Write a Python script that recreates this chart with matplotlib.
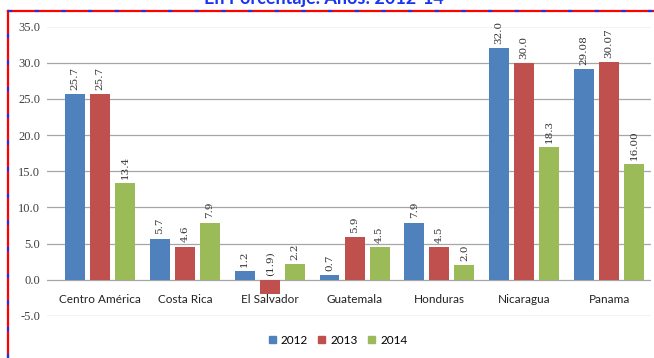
import numpy as np
import matplotlib.pyplot as plt
from matplotlib.lines import Line2D
from matplotlib.patches import Patch

# categorias y valores (porcentaje)
paises = ["Centro América", "Costa Rica", "El Salvador", "Guatemala",
          "Honduras", "Nicaragua", "Panama"]
anios = ["2012", "2013", "2014"]
v2012 = [25.7, 5.7, 1.2, 0.7, 7.9, 32.0, 29.08]
v2013 = [25.7, 4.6, -1.9, 5.9, 4.5, 30.0, 30.07]
v2014 = [13.4, 7.9, 2.2, 4.5, 2.0, 18.3, 16.00]
e2012 = ["25.7", "5.7", "1.2", "0.7", "7.9", "32.0", "29.08"]
e2013 = ["25.7", "4.6", "(1.9)", "5.9", "4.5", "30.0", "30.07"]
e2014 = ["13.4", "7.9", "2.2", "4.5", "2.0", "18.3", "16.00"]
yticks = [-5.0, 0.0, 5.0, 10.0, 15.0, 20.0, 25.0, 30.0, 35.0]
titulo = "En Porcentaje. Años: 2012-14"

colores = ["#4F81BD", "#C0504D", "#9BBB59"]

W, H = 654, 358
fig = plt.figure(figsize=(W / 100, H / 100), dpi=100)
fig.patch.set_facecolor("white")

ax = fig.add_axes([47 / W, 1 - 316 / H, (651.5 - 47) / W, (316 - 26.5) / H])
ax.set_ylim(-5, 35)
ax.set_xlim(-0.5 - (57.6 - 47) / 84.8, 6.5)

x = np.arange(len(paises))
paso = 0.295
ancho = 0.235
series = [(v2012, e2012), (v2013, e2013), (v2014, e2014)]
for k, (vals, etq) in enumerate(series):
    xs = x + (k - 1) * paso
    ax.bar(xs, vals, width=ancho, color=colores[k], zorder=3)
    for xi, v, t in zip(xs, vals, etq):
        ax.annotate(t, (xi, max(v, 0)), xytext=(0, 3), textcoords="offset points",
                    rotation=90, ha="center", va="bottom", fontsize=7.5,
                    family="DejaVu Serif", color="#333333", zorder=4)

ax.set_yticks(yticks)
ax.set_yticklabels(["%.1f" % t for t in yticks], family="Liberation Serif",
                   fontsize=9, color="#404040")
ax.tick_params(axis="y", length=0, pad=5)
ax.set_xticks([])
ax.grid(axis="y", color="#a6a6a6", lw=0.9, zorder=0)
for s in ax.spines.values():
    s.set_visible(False)

for xi, p in zip(x, paises):
    ax.text(xi, -2.75, p, ha="center", va="center", fontsize=8.5,
            family="Lato", color="#222222")

# leyenda
handles = [Patch(color=c) for c in colores]
fig.legend(handles, anios, loc="center", bbox_to_anchor=(338 / W, 1 - 340 / H),
           ncol=3, frameon=False, handlelength=0.6, handleheight=0.6,
           handletextpad=0.4, columnspacing=0.9, prop={"family": "Lato", "size": 8.5})

# titulo (cortado arriba, como en la imagen original)
fig.text(324 / W, 1 - 4 / H, titulo, ha="center", va="baseline", fontsize=13,
         fontweight="bold", color="#1A35F0", family="Lato")

# borde rojo con puntos azules
bx, by = 8, 11
fig.add_artist(Line2D([bx / W, 1.0], [1 - by / H, 1 - by / H], color="red", lw=1.6))
fig.add_artist(Line2D([bx / W, bx / W], [0, 1 - by / H], color="red", lw=1.6))
fig.add_artist(Line2D([bx / W, 1.0], [1 - by / H, 1 - by / H], color="#2233dd", lw=1.6,
                      ls=(0, (2, 10))))
fig.add_artist(Line2D([bx / W, bx / W], [0, 1 - by / H], color="#2233dd", lw=1.6,
                      ls=(0, (2, 10))))

fig.savefig("out.png", dpi=100)
